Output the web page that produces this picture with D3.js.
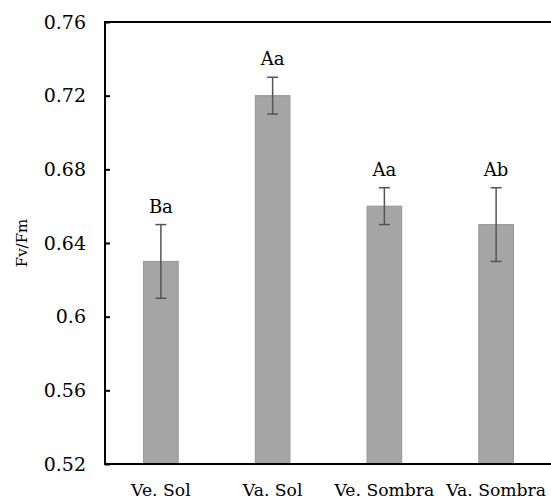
<!DOCTYPE html>
<html>
<head>
<meta charset="utf-8">
<script src="https://cdn.jsdelivr.net/npm/d3@7"></script>
<style>
  html, body { margin: 0; padding: 0; background: #fff; }
</style>
</head>
<body>
<svg id="chart" width="551" height="501"></svg>
<script>
// Fv/Fm per treatment.
const categories = ["Ve. Sol", "Va. Sol", "Ve. Sombra", "Va. Sombra"];
const means      = [0.63, 0.72, 0.66, 0.65];
const errors     = [0.02, 0.01, 0.01, 0.02];
const letters    = ["Ba", "Aa", "Aa", "Ab"];
const yTicks     = [0.52, 0.56, 0.60, 0.64, 0.68, 0.72, 0.76];

// Liberation Serif doesn't render here, DejaVu Serif does.
const SERIF = "DejaVu Serif";

const svg = d3.select("#chart")
  .attr("font-family", SERIF);
const margin = { left: 105, top: 22, right: 0, bottom: 37 };
const width = 551, height = 501;

const x = d3.scaleBand()
  .domain(categories)
  .range([margin.left, 552])
  .paddingInner(0.69)
  .paddingOuter(0.345);

const y = d3.scaleLinear()
  .domain([0.52, 0.76])
  .range([height - margin.bottom, margin.top]);

// bars
svg.append("g")
  .selectAll("rect")
  .data(categories)
  .join("rect")
  .attr("x", d => x(d))
  .attr("width", x.bandwidth())
  .attr("y", (d, i) => y(means[i]))
  .attr("height", (d, i) => y(0.52) - y(means[i]))
  .attr("fill", "#a5a5a5")
  .attr("stroke", "#969696")
  .attr("stroke-width", 1);

// error bars
const eb = svg.append("g")
  .attr("stroke", "#555")
  .attr("stroke-width", 1.5);
categories.forEach((c, i) => {
  const cx = x(c) + x.bandwidth() / 2;
  const hi = y(means[i] + errors[i]), lo = y(means[i] - errors[i]);
  eb.append("line").attr("x1", cx).attr("x2", cx).attr("y1", hi).attr("y2", lo);
  eb.append("line").attr("x1", cx - 5.5).attr("x2", cx + 5.5).attr("y1", hi).attr("y2", hi);
  eb.append("line").attr("x1", cx - 5.5).attr("x2", cx + 5.5).attr("y1", lo).attr("y2", lo);
});

// significance letters
svg.append("g")
  .selectAll("text")
  .data(categories)
  .join("text")
  .attr("x", d => x(d) + x.bandwidth() / 2)
  .attr("y", (d, i) => y(means[i] + errors[i]) - 12)
  .attr("text-anchor", "middle")
  .attr("font-size", 18)
  .text((d, i) => letters[i]);

// y axis (ticks point inward)
const yAxis = svg.append("g")
  .attr("transform", `translate(${margin.left},0)`)
  .call(d3.axisRight(y).tickValues(yTicks).tickSize(5).tickFormat(d3.format("")));
yAxis.attr("font-family", SERIF).attr("font-size", 19);
yAxis.select(".domain").remove();
yAxis.selectAll(".tick line").attr("stroke", "#000").attr("stroke-width", 2);
yAxis.selectAll(".tick text")
  .attr("x", -19)
  .attr("text-anchor", "end")
  .attr("fill", "#000");

// frame: left, bottom and top lines
const frame = svg.append("g").attr("stroke", "#000").attr("stroke-width", 2);
frame.append("line").attr("x1", margin.left).attr("x2", margin.left)
  .attr("y1", y(0.76)).attr("y2", y(0.52));
frame.append("line").attr("x1", margin.left - 1).attr("x2", width)
  .attr("y1", y(0.52)).attr("y2", y(0.52));
frame.append("line").attr("x1", margin.left - 1).attr("x2", width)
  .attr("y1", y(0.76)).attr("y2", y(0.76));

// x category labels
svg.append("g")
  .selectAll("text")
  .data(categories)
  .join("text")
  .attr("x", d => x(d) + x.bandwidth() / 2)
  .attr("y", 496)
  .attr("text-anchor", "middle")
  .attr("font-size", 17.2)
  .text(d => d);

// y axis title
svg.append("text")
  .attr("transform", `translate(27,${(y(0.52) + y(0.76)) / 2}) rotate(-90)`)
  .attr("text-anchor", "middle")
  .attr("font-size", 15)
  .text("Fv/Fm");
</script>
</body>
</html>
